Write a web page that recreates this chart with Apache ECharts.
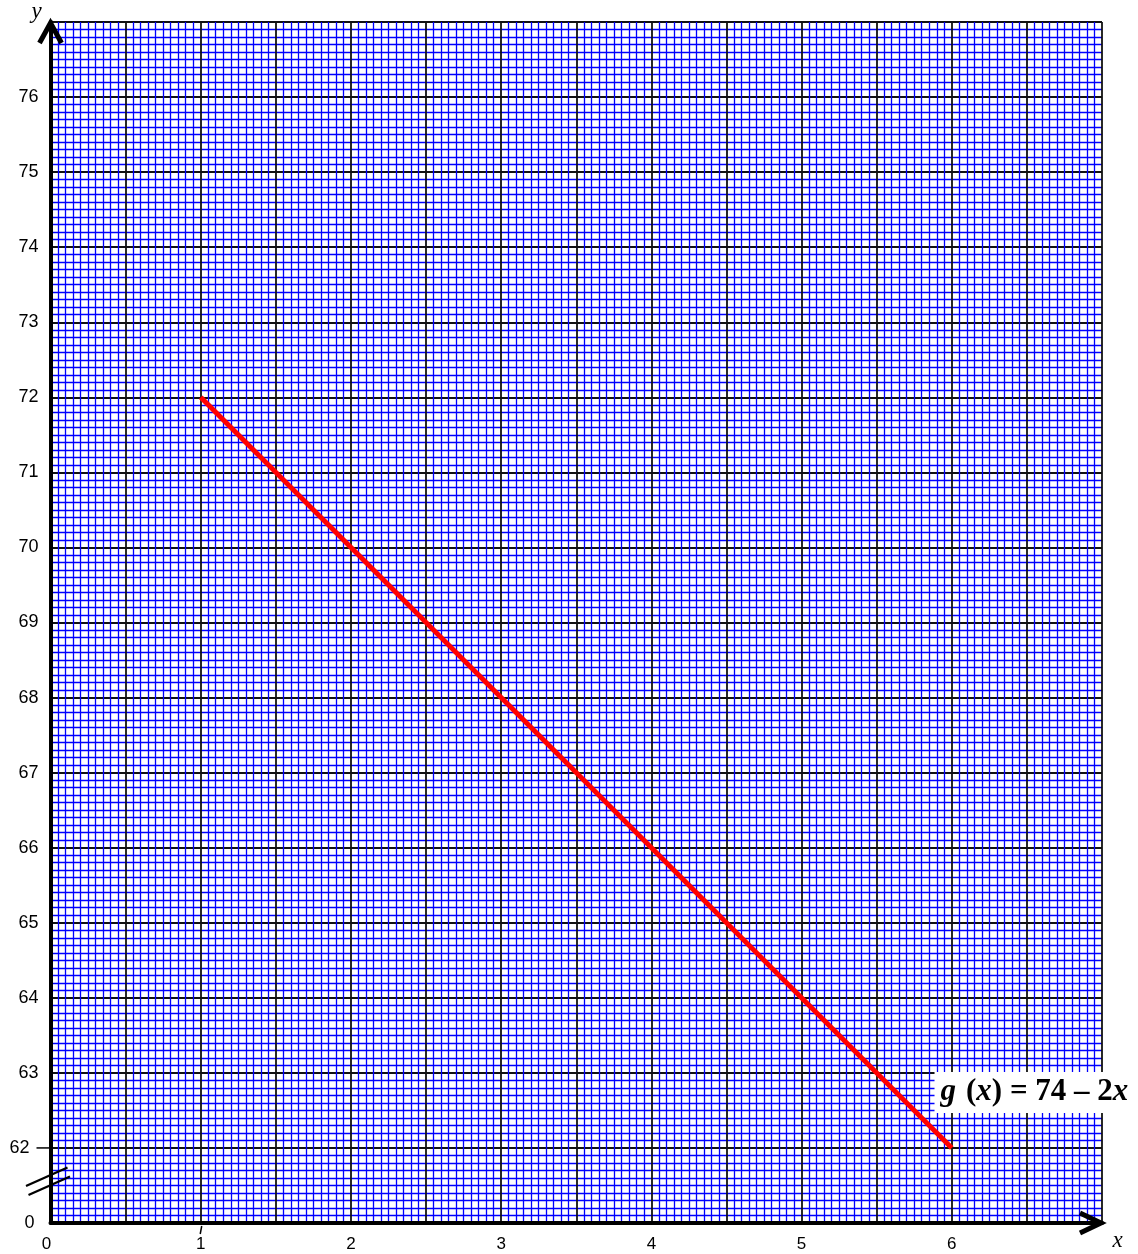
<!DOCTYPE html>
<html>
<head>
<meta charset="utf-8">
<script src="https://cdn.jsdelivr.net/npm/echarts@6/dist/echarts.min.js"></script>
<style>
html,body{margin:0;padding:0;background:#fff;}
#c{width:1138px;height:1254px;}
</style>
</head>
<body>
<div id="c"></div>
<script>
// Data
const xRange = [0, 7];
const yRange = [61, 77];          // 61 is shown as "0" (broken axis)
const brokenYValue = 61;
const lineX = [1, 6];
const lineY = [72, 62];           // g(x) = 74 - 2x
const xTickLabels = [0, 1, 2, 3, 4, 5, 6];
const yTickLabels = [62, 63, 64, 65, 66, 67, 68, 69, 70, 71, 72, 73, 74, 75, 76];
const funcLabel = 'g (x) = 74 – 2x';

const chart = echarts.init(document.getElementById('c'), null, {renderer: 'canvas'});

const majorLine = {color: '#111', width: 1.8};
const minorLine = {color: '#0000ff', width: 1.3};
const yFont = 18, xFont = 17;

const option = {
  backgroundColor: '#fff',
  animation: false,
  grid: {left: 50.5, right: 36, top: 22, bottom: 31, outerBoundsMode: 'none', containLabel: false},
  xAxis: {
    type: 'value', min: xRange[0], max: xRange[1], interval: 0.5,
    axisLine: {show: true, onZero: false, lineStyle: {color: '#000', width: 4}},
    axisTick: {show: false},
    minorTick: {show: false, splitNumber: 10},
    splitLine: {show: true, lineStyle: majorLine},
    minorSplitLine: {show: true, lineStyle: minorLine},
    axisLabel: {
      show: true, margin: 13, color: '#000', fontFamily: 'Liberation Sans', fontSize: xFont,
      showMinLabel: true, showMaxLabel: true,
      formatter: function (v) {
        if (xTickLabels.indexOf(v) < 0) return '';
        if (v === 0) return '{z|0}';
        return String(v);
      },
      rich: {z: {fontFamily: 'Liberation Sans', fontSize: xFont, color: '#000', padding: [0, 8, 4, 0]}}
    }
  },
  yAxis: {
    type: 'value', min: yRange[0], max: yRange[1], interval: 1,
    axisLine: {show: true, onZero: false, lineStyle: {color: '#000', width: 4}},
    axisTick: {show: false},
    minorTick: {show: false, splitNumber: 10},
    splitLine: {show: true, lineStyle: majorLine},
    minorSplitLine: {show: true, lineStyle: minorLine},
    axisLabel: {
      show: true, margin: 12, color: '#000', fontFamily: 'Liberation Sans', fontSize: yFont,
      showMinLabel: true, showMaxLabel: true,
      formatter: function (v) {
        if (v === brokenYValue) return '{z|0}';
        if (v === 62) return '{t|62}';
        if (yTickLabels.indexOf(v) < 0) return '';
        return String(v);
      },
      rich: {
        z: {fontFamily: 'Liberation Sans', fontSize: yFont, color: '#000', padding: [0, 4, 0, 0]},
        t: {fontFamily: 'Liberation Sans', fontSize: yFont, color: '#000', padding: [0, 9, 0, 0]}
      }
    }
  },
  series: [{
    type: 'line',
    data: lineX.map((x, i) => [x, lineY[i]]),
    showSymbol: false,
    symbol: 'none',
    lineStyle: {color: '#ff0000', width: 5, cap: 'butt'},
    z: 5
  }]
};
chart.setOption(option);

// Decorations positioned via the chart's own scales
const P = (x, y) => chart.convertToPixel({gridIndex: 0}, [x, y]);
const pO = P(xRange[0], yRange[0]);
const pTop = P(xRange[0], yRange[1]);
const pRight = P(xRange[1], yRange[0]);
const p62 = P(0, 62);
const p1 = P(1, yRange[0]);
const pLbl = P(5.885, 62.74);

chart.setOption({
  graphic: [
    {type: 'polyline', shape: {points: [[pTop[0] - 11, pTop[1] + 21], [pTop[0], pTop[1] + 1], [pTop[0] + 11, pTop[1] + 21]]},
     style: {stroke: '#000', lineWidth: 5, fill: null, lineJoin: 'miter'}, z: 20},
    {type: 'polyline', shape: {points: [[pRight[0] - 22, pRight[1] - 10], [pRight[0] - 1, pRight[1]], [pRight[0] - 22, pRight[1] + 10]]},
     style: {stroke: '#000', lineWidth: 5, fill: null, lineJoin: 'miter'}, z: 20},
    {type: 'line', shape: {x1: p62[0] - 14, y1: p62[1], x2: p62[0], y2: p62[1]},
     style: {stroke: '#000', lineWidth: 1.5}, z: 20},
    {type: 'line', shape: {x1: p1[0] + 1, y1: p1[1] + 3, x2: p1[0] - 0.5, y2: p1[1] + 11},
     style: {stroke: '#000', lineWidth: 1.5}, z: 20},
    {type: 'line', shape: {x1: pO[0] - 24.5, y1: pO[1] - 37, x2: pO[0] + 17, y2: pO[1] - 55.5},
     style: {stroke: '#000', lineWidth: 2.3}, z: 20},
    {type: 'line', shape: {x1: pO[0] - 22, y1: pO[1] - 28, x2: pO[0] + 19.5, y2: pO[1] - 46.5},
     style: {stroke: '#000', lineWidth: 2.3}, z: 20},
    {type: 'text', x: pO[0] - 14, y: pTop[1] - 10,
     style: {text: 'y', font: 'italic 23px "Liberation Serif"', fill: '#000', align: 'center', verticalAlign: 'middle'}, z: 20},
    {type: 'text', x: pRight[0] + 15.5, y: pRight[1] + 18,
     style: {text: 'x', font: 'italic 23px "Liberation Serif"', fill: '#000', align: 'center', verticalAlign: 'middle'}, z: 20},
    {type: 'text', x: pLbl[0], y: pLbl[1], z: 30,
     style: {
       text: '{i|g}{s| }{b|(}{i|x}{b|) = 74 – 2}{i|x}',
       align: 'left', verticalAlign: 'middle',
       backgroundColor: '#fff', padding: [5, 4, 5, 6],
       rich: {
         i: {fontFamily: 'Liberation Serif', fontWeight: 'bold', fontStyle: 'italic', fontSize: 31, fill: '#000'},
         b: {fontFamily: 'Liberation Serif', fontWeight: 'bold', fontSize: 31, fill: '#000'},
         s: {fontFamily: 'Liberation Serif', fontSize: 31, width: 10}
       }
     }}
  ]
});
</script>
</body>
</html>
